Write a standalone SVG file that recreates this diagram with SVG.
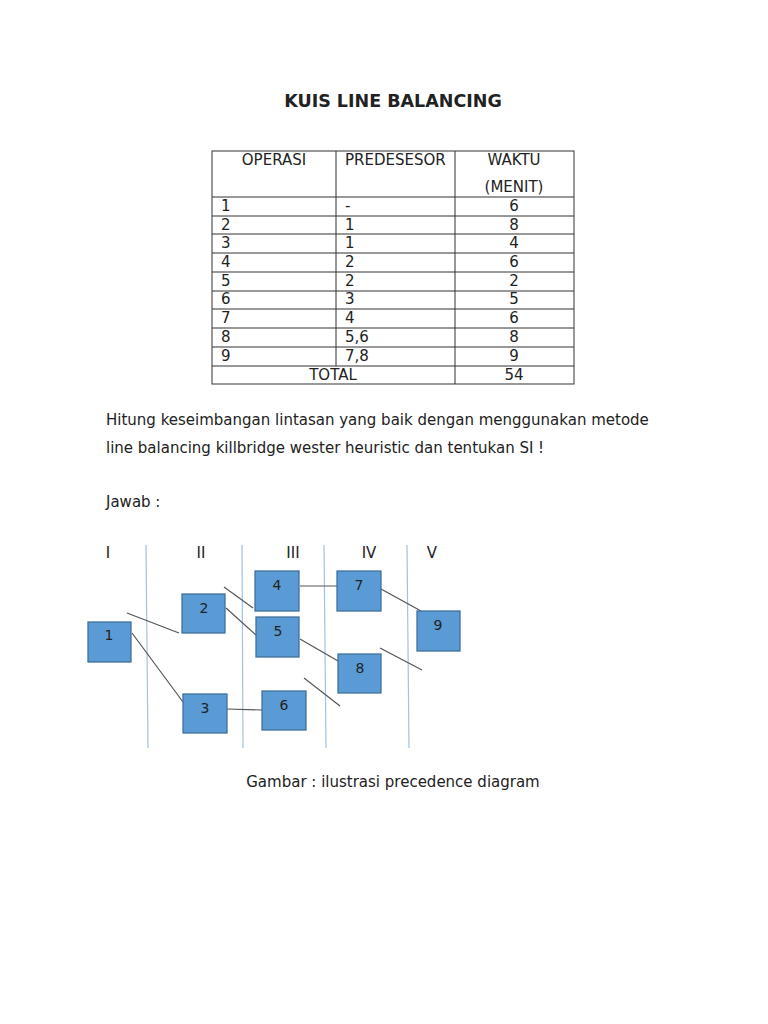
<svg xmlns="http://www.w3.org/2000/svg" width="768" height="1024" viewBox="0 0 768 1024">
<style>
text{font-family:"DejaVu Sans","Liberation Sans",sans-serif;fill:#222;font-size:15px}
.t{font-size:17.5px;font-weight:bold}
.p{font-size:15px}
.n{font-size:14px}
.c{text-anchor:middle}
.grid line{stroke:#333;stroke-width:1}
.sep{stroke:#9fc3e3;stroke-width:1.2}
.box{fill:#5b9bd5;stroke:#41719c;stroke-width:1.3}
.edge line{stroke:#555;stroke-width:1.2}
</style>
<rect width="768" height="1024" fill="#fff"/>
<text class="t c" x="393" y="107">KUIS LINE BALANCING</text>
<g id="table">
<rect x="212" y="151" width="362" height="233" fill="none" stroke="#333"/>
<g class="grid">
<line x1="336" y1="151" x2="336" y2="366"/>
<line x1="455" y1="151" x2="455" y2="384"/>
<line x1="212" y1="197" x2="574" y2="197"/>
<line x1="212" y1="216" x2="574" y2="216"/>
<line x1="212" y1="234" x2="574" y2="234"/>
<line x1="212" y1="253" x2="574" y2="253"/>
<line x1="212" y1="272" x2="574" y2="272"/>
<line x1="212" y1="291" x2="574" y2="291"/>
<line x1="212" y1="309" x2="574" y2="309"/>
<line x1="212" y1="328" x2="574" y2="328"/>
<line x1="212" y1="347" x2="574" y2="347"/>
<line x1="212" y1="366" x2="574" y2="366"/>
</g>
<text class="c" x="274" y="165">OPERASI</text>
<text x="345" y="165">PREDESESOR</text>
<text class="c" x="514" y="165">WAKTU</text>
<text class="c" x="514" y="192">(MENIT)</text>
<text x="221" y="211">1</text><text x="345" y="211">-</text><text class="c" x="514" y="211">6</text>
<text x="221" y="230">2</text><text x="345" y="230">1</text><text class="c" x="514" y="230">8</text>
<text x="221" y="248">3</text><text x="345" y="248">1</text><text class="c" x="514" y="248">4</text>
<text x="221" y="267">4</text><text x="345" y="267">2</text><text class="c" x="514" y="267">6</text>
<text x="221" y="286">5</text><text x="345" y="286">2</text><text class="c" x="514" y="286">2</text>
<text x="221" y="304">6</text><text x="345" y="304">3</text><text class="c" x="514" y="304">5</text>
<text x="221" y="323">7</text><text x="345" y="323">4</text><text class="c" x="514" y="323">6</text>
<text x="221" y="342">8</text><text x="345" y="342">5,6</text><text class="c" x="514" y="342">8</text>
<text x="221" y="361">9</text><text x="345" y="361">7,8</text><text class="c" x="514" y="361">9</text>
<text class="c" x="333" y="380">TOTAL</text><text class="c" x="514" y="380">54</text>
</g>
<text class="p" x="106" y="425">Hitung keseimbangan lintasan yang baik dengan menggunakan metode</text>
<text class="p" x="106" y="453">line balancing killbridge wester heuristic dan tentukan SI !</text>
<text class="p" x="106" y="507">Jawab :</text>
<g id="stations">
<text class="c" x="108" y="558">I</text>
<text class="c" x="201" y="558">II</text>
<text class="c" x="293" y="558">III</text>
<text class="c" x="369" y="558">IV</text>
<text class="c" x="432" y="558">V</text>
<line class="sep" x1="146" y1="545" x2="148" y2="748"/>
<line class="sep" x1="242" y1="545" x2="243" y2="748"/>
<line class="sep" x1="324" y1="545" x2="326" y2="748"/>
<line class="sep" x1="407" y1="545" x2="409" y2="748"/>
</g>
<g id="connectors" class="edge">
<line x1="127" y1="613" x2="179" y2="633"/>
<line x1="132" y1="633" x2="183" y2="702"/>
<line x1="224" y1="587" x2="253" y2="608"/>
<line x1="226" y1="608" x2="256" y2="635"/>
<line x1="300" y1="586" x2="337" y2="586"/>
<line x1="227" y1="709" x2="262" y2="710"/>
<line x1="300" y1="639" x2="338" y2="661"/>
<line x1="304" y1="678" x2="340" y2="706"/>
<line x1="381" y1="589" x2="421" y2="611"/>
<line x1="380" y1="648" x2="422" y2="670"/>
</g>
<g id="n1"><rect class="box" x="88" y="622" width="43" height="40"/><text class="c n" x="109" y="640">1</text></g>
<g id="n2"><rect class="box" x="182" y="594" width="43" height="39"/><text class="c n" x="204" y="613">2</text></g>
<g id="n3"><rect class="box" x="183" y="694" width="44" height="39"/><text class="c n" x="205" y="713">3</text></g>
<g id="n4"><rect class="box" x="255" y="571" width="44" height="40"/><text class="c n" x="277" y="590">4</text></g>
<g id="n5"><rect class="box" x="256" y="617" width="43" height="40"/><text class="c n" x="278" y="636">5</text></g>
<g id="n6"><rect class="box" x="262" y="691" width="44" height="39"/><text class="c n" x="284" y="710">6</text></g>
<g id="n7"><rect class="box" x="337" y="571" width="44" height="40"/><text class="c n" x="359" y="590">7</text></g>
<g id="n8"><rect class="box" x="338" y="654" width="43" height="39"/><text class="c n" x="360" y="673">8</text></g>
<g id="n9"><rect class="box" x="417" y="611" width="43" height="40"/><text class="c n" x="438" y="630">9</text></g>
<text class="p c" x="393" y="787">Gambar : ilustrasi precedence diagram</text>
</svg>
